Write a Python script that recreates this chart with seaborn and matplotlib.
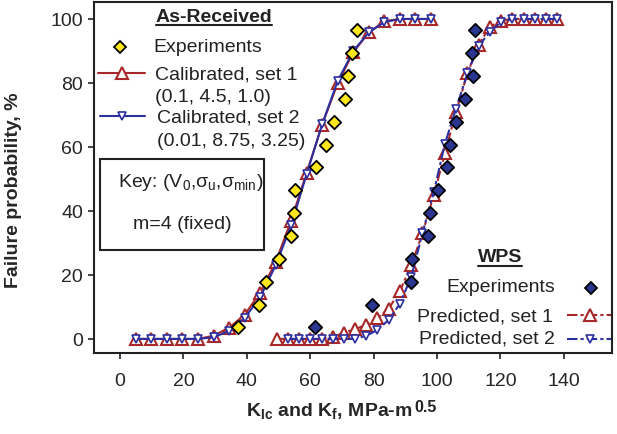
import matplotlib.pyplot as plt
import seaborn as sns
from matplotlib.lines import Line2D

# As-received: experiments and calibrated Weibull curves
ar_exp_k = [37.3, 43.8, 46.0, 50.1, 53.9, 54.9, 55.2, 61.8, 65.0, 67.6, 70.9, 71.9, 73.3, 74.7]
ar_exp_p = [3.6, 10.7, 17.9, 25.0, 32.1, 39.3, 46.4, 53.6, 60.7, 67.9, 75.0, 82.1, 89.3, 96.4]

ar_k = [5, 9.9, 14.8, 19.7, 24.6, 29.5, 34.4, 39.3, 44.2, 49.1, 54.0, 58.9, 63.8, 68.7,
        73.6, 78.5, 83.4, 88.3, 93.2, 98.1]
ar_set1 = [0, 0, 0, 0, 0, 1.0, 3.5, 7.5, 14.5, 24, 37, 52, 67, 80, 89.6, 95.8, 99.3, 100, 100, 100]
ar_set2 = [0, 0, 0, 0, 0, 0.5, 2.5, 6.5, 13, 23, 35.5, 51.6, 67.2, 80.7, 90, 95.8, 99, 100, 100, 100]

# WPS: experiments and predicted curves
wps_exp_k = [61.5, 79.6, 91.8, 92.0, 97.2, 97.8, 100.2, 103.0, 104.1, 106.0, 108.8, 111.4, 110.9, 112.0]
wps_exp_p = [3.6, 10.7, 17.9, 25.0, 32.1, 39.3, 46.4, 53.6, 60.7, 67.9, 75.0, 82.1, 89.3, 96.4]

wps_k1 = [49.4, 53.0, 56.5, 60.0, 63.6, 67.1, 70.6, 74.2, 77.7, 81.2, 84.8, 88.3, 91.9, 95.4,
          99.0, 102.5, 106.0, 109.6, 113.1, 116.7, 120.2, 123.7, 127.3, 130.8, 134.4, 137.9]
wps_set1 = [0, 0, 0, 0, 0, 0.5, 2, 3, 4.5, 6.5, 9.5, 15, 23, 33, 45, 58, 71, 83, 92, 97.5,
            99.5, 100, 100, 100, 100, 100]
wps_k2 = wps_k1[1:]
wps_set2 = [0, 0, 0, 0, 0, 0, 0, 1, 2.8, 6, 11, 19.5, 33, 46, 61, 72, 83, 91.5, 96, 99,
            100, 100, 100, 100, 100]

x_ticks = [0, 20, 40, 60, 80, 100, 120, 140]
y_ticks = [0, 20, 40, 60, 80, 100]

RED = "#a8282a"
BLUE = "#2c2fa0"
YELLOW = "#ffe81a"
NAVY = "#2b3592"
DASH = (0, (5, 1.5, 1.5, 1.5))

sns.set_style("ticks")
plt.rcParams['font.family'] = ['Liberation Sans', 'DejaVu Sans']
plt.rcParams['mathtext.fontset'] = 'custom'
plt.rcParams['mathtext.rm'] = 'Liberation Sans'
plt.rcParams['mathtext.it'] = 'Liberation Sans:italic'
plt.rcParams['mathtext.bf'] = 'Liberation Sans:bold'

fig = plt.figure(figsize=(6.17, 4.35), dpi=100)
ax = fig.add_axes([94 / 617, 1 - 354 / 435, 518 / 617, 351 / 435])


def curve(x, y, color, marker, ms, mew, ls, z):
    sns.lineplot(x=x, y=y, ax=ax, color=color, linewidth=1.5, linestyle=ls,
                 marker=marker, markersize=ms, markerfacecolor='white',
                 markeredgecolor=color, markeredgewidth=mew, zorder=z)


curve(ar_k, ar_set1, RED, '^', 8, 1.5, '-', 2)
curve(ar_k, ar_set2, BLUE, 'v', 5.5, 1.2, '-', 3)
curve(wps_k1, wps_set1, RED, '^', 8, 1.5, DASH, 2)
curve(wps_k2, wps_set2, BLUE, 'v', 5.5, 1.2, DASH, 3)

sns.scatterplot(x=ar_exp_k, y=ar_exp_p, ax=ax, marker='D', s=46, color=YELLOW,
                edgecolor='black', linewidth=1.3, zorder=5)
sns.scatterplot(x=wps_exp_k, y=wps_exp_p, ax=ax, marker='D', s=46, color=NAVY,
                edgecolor='black', linewidth=1.3, zorder=5)

ax.set_xlim(-8.2, 155.2)
ax.set_ylim(-4.4, 105.3)
ax.set_xticks(x_ticks)
ax.set_yticks(y_ticks)
ax.tick_params(axis='both', labelsize=14, length=4, width=1.2, color='#222222')
ax.tick_params(axis='x', pad=10)
ax.tick_params(axis='y', pad=4)
for s in ax.spines.values():
    s.set_linewidth(1.5)
    s.set_color('#222222')

ax.set_ylabel("Failure probability, %", fontsize=14, fontweight='bold')
ax.yaxis.set_label_coords(-0.139, 0.467)
xl = ax.set_xlabel(r"K$_\mathbf{Ic}$ and K$_\mathbf{f}$, MPa-m",
                   fontsize=14, fontweight='bold')
ax.xaxis.set_label_coords(0.455, -0.135)


def ax_pos(px, py):
    return (px - 94) / 518, (354 - py) / 351


def txt(px, py, s, ha='left', **kw):
    fx, fy = ax_pos(px, py)
    return ax.text(fx, fy, s, transform=ax.transAxes, ha=ha, va='center',
                   fontsize=14, color='#222222', **kw)


def underline(t, py):
    fig.canvas.draw()
    bb = t.get_window_extent().transformed(ax.transAxes.inverted())
    fy = ax_pos(0, py)[1]
    ax.add_line(Line2D([bb.x0, bb.x1], [fy, fy], transform=ax.transAxes,
                       color='#222222', lw=1.5))


def swatch(px0, px1, pm, py, color, marker, ms, mew, ls, face='white', ec=None):
    x0, y0 = ax_pos(px0, py)
    x1, _ = ax_pos(px1, py)
    xm, _ = ax_pos(pm, py)
    if ls is not None:
        ax.add_line(Line2D([x0, x1], [y0, y0], transform=ax.transAxes, color=color,
                           lw=1.5, linestyle=ls, clip_on=False))
    ax.add_line(Line2D([xm], [y0], transform=ax.transAxes, marker=marker, ms=ms,
                       mfc=face, mec=ec or color, mew=mew, clip_on=False, zorder=6))


# superscript of the x label, a bit larger than mathtext would make it
fig.canvas.draw()
xb = xl.get_window_extent().transformed(ax.transAxes.inverted())
ax.text(xb.x1 + 0.003, xb.y1 + 0.005, "0.5", transform=ax.transAxes, ha='left', va='top',
        fontsize=11.5, fontweight='bold', color='#222222')

# As-Received key
t1 = txt(214, 17, "As-Received", ha='center', fontweight='bold')
underline(t1, 26)
swatch(0, 0, 120, 48, None, 'D', 6.6, 1.3, None, face=YELLOW, ec='black')
txt(153, 48, "Experiments")
swatch(98, 145, 122, 74, RED, '^', 8, 1.5, '-')
txt(155, 75, "Calibrated, set 1")
txt(155, 98, "(0.1, 4.5, 1.0)")
swatch(100, 145, 122, 117, BLUE, 'v', 5.5, 1.2, '-')
txt(157, 118, "Calibrated, set 2")
txt(157, 141, "(0.01, 8.75, 3.25)")

bx0, by0 = ax_pos(100, 251)
bx1, by1 = ax_pos(264, 160)
ax.add_patch(plt.Rectangle((bx0, by0), bx1 - bx0, by1 - by0, transform=ax.transAxes,
                           fill=False, lw=1.5, ec='#222222'))
txt(118, 183, r"Key: (V$_\mathrm{0}$,σ$_\mathrm{u}$,σ$_\mathrm{min}$)")
txt(133, 225, "m=4 (fixed)")

# WPS key
t2 = txt(500, 258, "WPS", ha='center', fontweight='bold')
underline(t2, 267)
txt(555, 288, "Experiments", ha='right')
swatch(0, 0, 591, 289, None, 'D', 6.6, 1.3, None, face=NAVY, ec='black')
txt(553, 317, "Predicted, set 1", ha='right')
swatch(567, 612, 590, 316, RED, '^', 8, 1.5, DASH)
txt(555, 339, "Predicted, set 2", ha='right')
swatch(567, 612, 590, 340, BLUE, 'v', 5.5, 1.2, DASH)

fig.savefig("out.png", dpi=100)
